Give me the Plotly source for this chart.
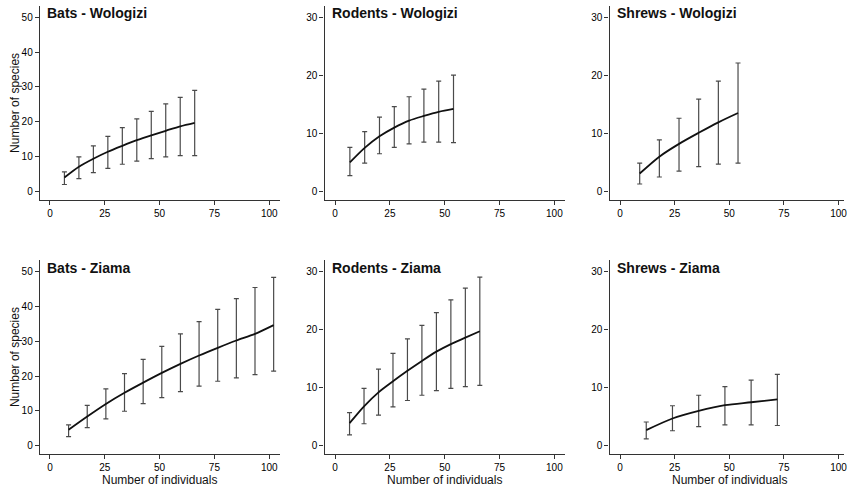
import plotly.graph_objects as go

# ---------------- data ----------------
panel_titles = ["Bats - Wologizi", "Rodents - Wologizi", "Shrews - Wologizi",
                "Bats - Ziama", "Rodents - Ziama", "Shrews - Ziama"]

bats_wol_x = [6.6, 13.2, 19.8, 26.4, 33.0, 39.6, 46.2, 52.8, 59.4, 66.0]
bats_wol_mean = [4.0, 7.1, 9.4, 11.4, 13.1, 14.7, 16.1, 17.4, 18.7, 19.7]
bats_wol_upper = [5.6, 9.9, 13.1, 15.8, 18.3, 20.8, 23.0, 25.1, 27.0, 29.0]
bats_wol_lower = [2.0, 3.7, 5.4, 6.6, 7.8, 8.7, 9.4, 9.9, 10.3, 10.3]

rod_wol_x = [6.75, 13.5, 20.25, 27.0, 33.75, 40.5, 47.25, 54.0]
rod_wol_mean = [5.0, 7.5, 9.5, 11.0, 12.2, 13.0, 13.7, 14.2]
rod_wol_upper = [7.6, 10.3, 12.8, 14.6, 16.3, 17.6, 19.0, 20.0]
rod_wol_lower = [2.75, 4.9, 6.5, 7.6, 8.2, 8.5, 8.5, 8.4]

shr_wol_x = [9, 18, 27, 36, 45, 54]
shr_wol_mean = [3.1, 6.0, 8.2, 10.1, 11.9, 13.5]
shr_wol_upper = [4.9, 8.9, 12.6, 15.9, 19.0, 22.1]
shr_wol_lower = [1.3, 2.5, 3.5, 4.3, 4.7, 4.9]

bats_zia_x = [8.5, 17, 25.5, 34, 42.5, 51, 59.5, 68, 76.5, 85, 93.5, 102]
bats_zia_mean = [4.6, 8.4, 12.0, 15.2, 18.1, 20.9, 23.5, 25.9, 28.1, 30.2, 32.1, 34.6]
bats_zia_upper = [6.0, 11.6, 16.3, 20.7, 24.8, 28.5, 32.1, 35.6, 39.1, 42.2, 45.4, 48.3]
bats_zia_lower = [2.6, 5.2, 7.7, 9.9, 12.1, 13.8, 15.5, 17.1, 18.5, 19.5, 20.4, 21.4]

rod_zia_x = [6.6, 13.2, 19.8, 26.4, 33.0, 39.6, 46.2, 52.8, 59.4, 66.0]
rod_zia_mean = [3.9, 6.8, 9.2, 11.1, 12.9, 14.6, 16.2, 17.5, 18.6, 19.7]
rod_zia_upper = [5.7, 9.9, 13.2, 15.9, 18.4, 20.7, 22.9, 25.1, 27.1, 29.0]
rod_zia_lower = [1.9, 3.8, 5.3, 6.7, 7.8, 8.7, 9.5, 9.9, 10.2, 10.4]

shr_zia_x = [12, 24, 36, 48, 60, 72]
shr_zia_mean = [2.7, 4.7, 6.0, 7.0, 7.5, 8.0]
shr_zia_upper = [4.1, 6.9, 8.7, 10.2, 11.3, 12.3]
shr_zia_lower = [1.2, 2.6, 3.3, 3.6, 3.6, 3.5]

x_ticks = [0, 25, 50, 75, 100]
y_ticks_bats = [0, 10, 20, 30, 40, 50]
y_ticks_small = [0, 10, 20, 30]
x_title = "Number of individuals"
y_title = "Number of species"

panels = [
    (bats_wol_x, bats_wol_mean, bats_wol_upper, bats_wol_lower),
    (rod_wol_x, rod_wol_mean, rod_wol_upper, rod_wol_lower),
    (shr_wol_x, shr_wol_mean, shr_wol_upper, shr_wol_lower),
    (bats_zia_x, bats_zia_mean, bats_zia_upper, bats_zia_lower),
    (rod_zia_x, rod_zia_mean, rod_zia_upper, rod_zia_lower),
    (shr_zia_x, shr_zia_mean, shr_zia_upper, shr_zia_lower),
]

# ---------------- layout geometry ----------------
W, H = 847, 489
FONT = "Liberation Sans, Arial, Helvetica, sans-serif"
AX = "#333333"

col_px = [(40, 281), (325.7, 566.7), (611.7, 847)]
row_px = [(6, 200), (260, 454.3)]
x_ranges = [[-4.6, 104.9], [-4.8, 104.7], [-4.8, 102.5]]
# y scale: (value at bottom of axis, pixels per unit)
y_scale = {"big": (-2.45, 194.0 / 55.65), "small": (-1.45, 194.0 / 33.35)}

fig = go.Figure()
layout = dict(
    width=W, height=H,
    margin=dict(l=0, r=0, t=0, b=0),
    paper_bgcolor="white", plot_bgcolor="white",
    showlegend=False,
    font=dict(family=FONT, color="#111111"),
)

annotations = []
for i, (xs, m, up, lo) in enumerate(panels):
    r, c = divmod(i, 3)
    n = i + 1
    xa = "x" if n == 1 else f"x{n}"
    ya = "y" if n == 1 else f"y{n}"
    plus = [u - v for u, v in zip(up, m)]
    minus = [v - l for v, l in zip(m, lo)]
    fig.add_trace(go.Scatter(
        x=xs, y=m, mode="markers", xaxis=xa, yaxis=ya,
        marker=dict(size=1, opacity=0),
        error_y=dict(type="data", array=plus, arrayminus=minus, symmetric=False,
                     color="#4a4a4a", thickness=1.2, width=2.5),
        hoverinfo="skip"))
    fig.add_trace(go.Scatter(
        x=xs, y=m, mode="lines", xaxis=xa, yaxis=ya,
        line=dict(color="#111111", width=1.8, shape="spline", smoothing=0.8)))

    x0, x1 = col_px[c][0], min(col_px[c][1], W)
    y0, y1 = row_px[r]
    big = (c == 0)
    bottom, ppu = y_scale["big" if big else "small"]
    top = bottom + (y1 - y0) / ppu
    xkey = "xaxis" if n == 1 else f"xaxis{n}"
    ykey = "yaxis" if n == 1 else f"yaxis{n}"
    layout[xkey] = dict(
        domain=[x0 / W, x1 / W], anchor=ya, range=x_ranges[c],
        tickvals=x_ticks, ticks="outside", ticklen=4, tickwidth=1, tickcolor=AX,
        ticklabeloverflow="allow",
        showline=True, linecolor=AX, linewidth=1.3, showgrid=False, zeroline=False,
        tickfont=dict(size=10, color="#000000", family=FONT))
    layout[ykey] = dict(
        domain=[1 - y1 / H, 1 - y0 / H], anchor=xa,
        range=[bottom, top],
        tickvals=y_ticks_bats if big else y_ticks_small,
        ticks="outside", ticklen=4, tickwidth=1, tickcolor=AX,
        ticklabeloverflow="allow",
        showline=True, linecolor=AX, linewidth=1.3, showgrid=False, zeroline=False,
        tickfont=dict(size=10, color="#000000", family=FONT))

    # panel title
    title_y = 12.5 if r == 0 else 267.5
    annotations.append(dict(
        text=panel_titles[i], xref="paper", yref="paper",
        x=(x0 + 5) / W, y=1 - title_y / H, xanchor="left", yanchor="middle",
        showarrow=False, font=dict(size=14, color="#111111", family=FONT, weight="bold")))

# axis titles
for r in range(2):
    yc = (row_px[r][0] + row_px[r][1]) / 2
    annotations.append(dict(
        text=y_title, xref="paper", yref="paper", x=15 / W, y=1 - yc / H,
        xanchor="center", yanchor="middle", textangle=-90, showarrow=False,
        font=dict(size=12, color="#111111", family=FONT)))
for c, cx in enumerate([160.5, 446.2, 732.2]):
    annotations.append(dict(
        text=x_title, xref="paper", yref="paper", x=cx / W, y=1 - 480 / H,
        xanchor="center", yanchor="middle", showarrow=False,
        font=dict(size=12, color="#111111", family=FONT)))

layout["annotations"] = annotations
fig.update_layout(**layout)
# remove the browser's default 8px body margin so the figure sits at the window corner
fig.write_html("out.html", config={"displayModeBar": False},
               post_script="document.body.style.margin='0px';")
